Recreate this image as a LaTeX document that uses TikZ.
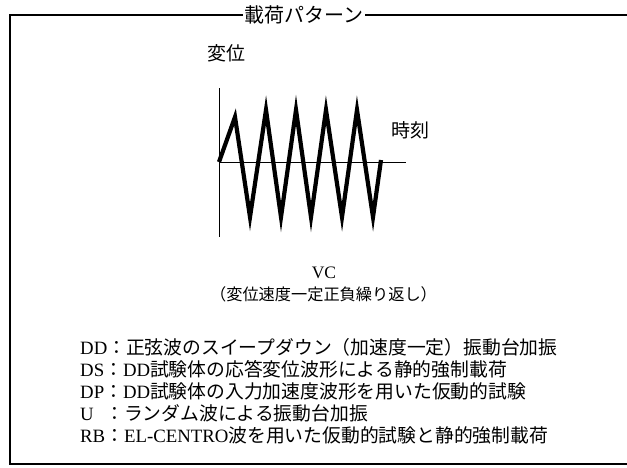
\documentclass[tikz,border=0pt]{standalone}
\usepackage{fontspec}
\setmainfont{Liberation Serif}
\newfontfamily\jp{Noto Sans CJK JP}
\begin{document}
\begin{tikzpicture}[x=1pt,y=-1pt,
  frame/.style={line width=2.2pt},
  axis/.style={line width=1pt},
  wave/.style={line width=4.2pt, line join=miter, miter limit=25},
  leg/.style={anchor=base west, inner sep=0pt, font=\fontsize{18.8}{20}\selectfont},
  lbl/.style={inner sep=0pt, font=\jp\fontsize{19}{20}\selectfont}]
\useasboundingbox (0,0) rectangle (627,467);
% frame
\coordinate (tl) at (10,15);
\coordinate (tr) at (627,15);
\coordinate (bl) at (10,464);
\coordinate (br) at (627,464);
\draw[frame] (tr) -- (tl) -- (bl) -- (br);
\node[fill=white, inner xsep=1.5pt, inner ysep=0pt, font=\jp\fontsize{20}{20}\selectfont] (title) at (304,15) {載荷パターン};
% axes
\coordinate (o) at (219,162);
\coordinate (ytop) at (219,88);
\coordinate (ybot) at (219,237);
\coordinate (xend) at (406,162);
\draw[axis] (ytop) -- (ybot);
\draw[axis] (o) -- (xend);
\draw[wave] (o) -- (235,117) -- (250,217) -- (266,110) -- (281,217) -- (296,110) -- (311,217)
  -- (326,110) -- (342,217) -- (357,110) -- (373,217) -- (381,160);
\node[lbl] (disp) at (226,53) {変位};
\node[lbl] (time) at (410,130) {時刻};
\node[inner sep=0pt, font=\fontsize{17.5}{18}\selectfont] (vc) at (324,273) {VC};
\node[inner sep=0pt, font=\jp\fontsize{16.2}{17}\selectfont] (vcd) at (323.5,294) {（変位速度一定正負繰り返し）};
% legend
\node[leg] (dd) at (80,354) {DD{\jp ：正弦波のスイープダウン（加速度一定）振動台加振}};
\node[leg] (ds) at (80,376) {DS{\jp ：}DD{\jp 試験体の応答変位波形による静的強制載荷}};
\node[leg] (dp) at (80,398) {DP{\jp ：}DD{\jp 試験体の入力加速度波形を用いた仮動的試験}};
\node[leg] (u) at (80,420) {\makebox[25pt][l]{U}{\jp ：ランダム波による振動台加振}};
\node[leg] (rb) at (80,442) {RB{\jp ：}EL-CENTRO{\jp 波を用いた仮動的試験と静的強制載荷}};
\end{tikzpicture}
\end{document}
